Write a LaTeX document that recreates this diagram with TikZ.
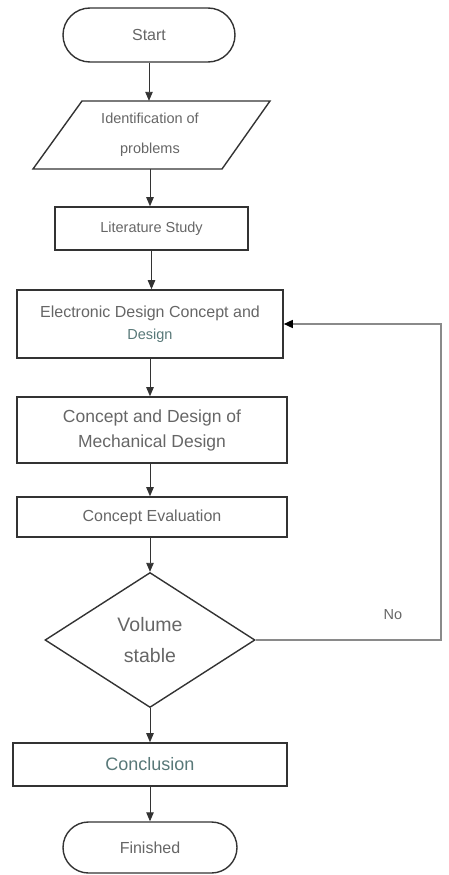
\documentclass[tikz,border=0pt]{standalone}
\usepackage{fontspec}
\setmainfont{Liberation Sans}
\usetikzlibrary{shapes.misc,shapes.geometric,arrows.meta,calc}
\definecolor{txt}{HTML}{666666}
\definecolor{txtb}{HTML}{587878}
\definecolor{edge}{HTML}{333333}
\definecolor{fbc}{HTML}{8A8A8A}
\tikzset{
  box/.style={draw=edge,line width=1.6pt,rectangle,inner sep=0pt,text=txt,align=center},
  term/.style={draw=edge,line width=1.4pt,rounded rectangle,inner sep=0pt,text=txt,align=center},
  arr/.style={draw=edge,line width=0.9pt,-{Triangle[length=9pt,width=7.5pt]}},
  fb/.style={draw=fbc,line width=1.5pt,-{Triangle[length=9pt,width=8pt,fill=black,color=black]}}
}
\begin{document}
\begin{tikzpicture}[x=1pt,y=-1pt]
\useasboundingbox (0,0) rectangle (448,875);
% Start
\node[term,minimum width=172pt,minimum height=54pt,font=\fontsize{16}{18}\selectfont] (start) at (149,35) {Start};
% Parallelogram
\draw[draw=edge,line width=1.4pt,line join=miter] (82,101) -- (270,101) -- (222,169) -- (33,169) -- cycle;
\node[inner sep=0pt,minimum width=150pt,minimum height=68pt,text=txt,align=center,font=\fontsize{14.5}{30}\selectfont] (ident) at (150,135) {Identification of\\problems};
% Literature
\node[box,minimum width=193pt,minimum height=43pt,font=\fontsize{14.5}{17}\selectfont] (lit) at (151.5,228.5) {Literature Study};
% Electronic
\node[box,minimum width=266pt,minimum height=68pt] (elec) at (150,324) {{\fontsize{16}{19}\selectfont Electronic Design Concept and}\\[7pt]{\fontsize{14.5}{17}\selectfont\color{txtb} Design}};
% Mechanical
\node[box,minimum width=270pt,minimum height=66pt,font=\fontsize{17.5}{25}\selectfont] (mech) at (152,430) {Concept and Design of\\Mechanical Design};
% Concept evaluation
\node[box,minimum width=270pt,minimum height=40pt,font=\fontsize{16}{19}\selectfont] (eval) at (152,517) {Concept Evaluation};
% Decision
\node[draw=edge,line width=1.4pt,diamond,aspect=1.556,minimum width=210pt,minimum height=135pt,inner sep=0pt,text=txt,align=center,font=\fontsize{19.5}{31}\selectfont] (dec) at (150,640) {Volume\\stable};
% Conclusion
\node[box,minimum width=274pt,minimum height=43pt,font=\fontsize{18}{21}\selectfont,text=txtb] (conc) at (150,764.5) {Conclusion};
% Finished
\node[term,minimum width=174pt,minimum height=51pt,font=\fontsize{16}{19}\selectfont] (fin) at (150,847.5) {Finished};
% No label
\node[text=txt,font=\fontsize{14.5}{17}\selectfont,inner sep=0pt] (no) at (393,615) {No};
% arrows
\draw[arr] (start.south) -- (start.south |- ident.north);
\draw[arr] (ident.south) -- (ident.south |- lit.north);
\draw[arr] (lit.south) -- (lit.south |- elec.north);
\draw[arr] (elec.south) -- (elec.south |- mech.north);
\draw[arr] (elec.south |- mech.south) -- (elec.south |- eval.north);
\draw[arr] (dec.north |- eval.south) -- (dec.north);
\draw[arr] (dec.south) -- (dec.south |- conc.north);
\draw[arr] (conc.south) -- (conc.south |- fin.north);
% feedback
\coordinate (corner) at (441,640);
\draw[fb] (dec.east) -- (corner) |- (elec.east);
\end{tikzpicture}
\end{document}
